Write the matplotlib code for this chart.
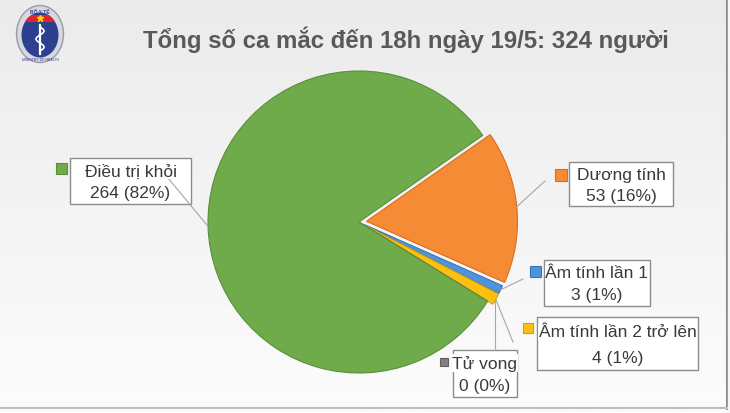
import matplotlib
matplotlib.use('Agg')
import matplotlib.pyplot as plt
import numpy as np
from matplotlib.patches import Rectangle, Ellipse

W, H = 730, 414

title = 'Tổng số ca mắc đến 18h ngày 19/5: 324 người'
labels = ['Dương tính', 'Âm tính lần 1', 'Âm tính lần 2 trở lên', 'Tử vong', 'Điều trị khỏi']
counts = [53, 3, 4, 0, 264]
percents = ['16%', '1%', '1%', '0%', '82%']
colors = ['#f68b35', '#4d94dc', '#fdc010', '#808080', '#70ab4b']
edges = ['#d96d1c', '#3b78b8', '#d9a000', '#606060', '#5a8f3a']

# label boxes in pixel coords: x0, y0, x1, y1 (top-left origin)
boxes = [(569, 163, 673, 207), (544, 261, 650, 307), (537, 318, 698, 371),
         (453, 351, 517, 398), (70, 159, 191, 205)]
markers = [(555, 170), (530, 267), (523, 324), (440, 359), (56, 164)]
marker_size = [12, 11, 10, 8, 11]
line_start = [(545, 182), (523, 280), (513, 343), (495, 351), (168, 179)]
explode_px = [7.5, 6, 6, 0, 0]

plt.rcParams['font.family'] = ['Liberation Sans', 'DejaVu Sans']
fig = plt.figure(figsize=(W / 100, H / 100), dpi=100)
ax = fig.add_axes([0, 0, 1, 1])


def fy(y):
    return H - y


# background
grad = np.linspace(0, 1, 256).reshape(-1, 1)
bg = matplotlib.colors.LinearSegmentedColormap.from_list('bg', ['#fcfcfc', '#f4f4f4', '#ebebeb'])
ax.imshow(grad, extent=(0, W, H, 0), cmap=bg, aspect='auto', zorder=0)
ax.plot([727, 727], [fy(0), fy(410)], color='#8c8c8c', lw=1.5, zorder=1)
ax.plot([0, 727], [fy(409), fy(409)], color='#bdbdbd', lw=1.5, zorder=1)
ax.add_patch(Rectangle((728, 0), 2, H, color='#f7f7f7', zorder=1))

# logo
ax.add_patch(Ellipse((40, fy(35)), 47, 57, facecolor='#d8d8e0', edgecolor='#9a9aa8', lw=1, zorder=2))
ax.add_patch(Ellipse((40, fy(36)), 37, 45, facecolor='#2e3f8f', edgecolor='none', zorder=3))
red = Rectangle((20, fy(23)), 40, 7, facecolor='#e0262c', edgecolor='none', zorder=4)
clip = Ellipse((40, fy(36)), 37, 45, transform=ax.transData)
ax.add_patch(red)
red.set_clip_path(clip)
ax.plot([40], [fy(19)], marker='*', color='#ffd400', ms=5, zorder=5)
ax.plot([40, 40], [fy(26), fy(55)], color='white', lw=1.6, zorder=5)
sy = np.linspace(28, 52, 40)
ax.plot(40 + 4 * np.sin((sy - 28) / 24 * 3 * np.pi), fy(sy), color='white', lw=1.2, zorder=5)
ax.text(40, fy(11), 'BỘ Y TẾ', fontsize=3.5, ha='center', va='center', color='#2e3f8f',
        fontweight='bold', zorder=5)
ax.text(40, fy(60), 'MINISTRY OF HEALTH', fontsize=2.5, ha='center', va='center', color='#2e3f8f', zorder=5)

# title
ax.text(406, fy(40), title, fontsize=17.3, fontweight='bold', color='#595959', ha='center',
        va='center', zorder=5)

# pie
cx, cy, r = 359, fy(223), 151
wedges, _ = ax.pie(counts, colors=colors, startangle=35, counterclock=False,
                   center=(cx, cy), radius=r, explode=explode_px,
                   frame=True, wedgeprops=dict(linewidth=0.8))
for w, ec in zip(wedges, edges):
    w.set_edgecolor(ec)
    w.set_zorder(3)

# labels with leader lines
for i, w in enumerate(wedges):
    x0, y0, x1, y1 = boxes[i]
    ang = np.deg2rad((w.theta1 + w.theta2) / 2)
    wx, wy = w.center
    px, py = wx + w.r * np.cos(ang), wy + w.r * np.sin(ang)
    sx, sy0 = line_start[i]
    if i == 3:
        px = sx
    ax.plot([sx, px], [fy(sy0), py], color='#a6a6a6', lw=0.8, zorder=5.5)
    ax.add_patch(Rectangle((x0, fy(y1)), x1 - x0, y1 - y0, facecolor='white',
                           edgecolor='#8c8c8c', lw=1, zorder=5))
    mx, my = markers[i]
    s = marker_size[i]
    ax.add_patch(Rectangle((mx, fy(my + s)), s, s, facecolor=colors[i],
                           edgecolor=edges[i], lw=0.8, zorder=5))
    xc = (x0 + x1) / 2
    for frac, txt in ((0.28, labels[i]), (0.76, f'{counts[i]} ({percents[i]})')):
        ax.text(xc, fy(y0 + (y1 - y0) * frac), txt, fontsize=12.5, color='#3a3a3a',
                ha='center', va='center', zorder=6,
                bbox=dict(facecolor='white', edgecolor='none', pad=0.5))

ax.set_xlim(0, W)
ax.set_ylim(0, H)
ax.axis('off')
fig.savefig('out.png', dpi=100)
